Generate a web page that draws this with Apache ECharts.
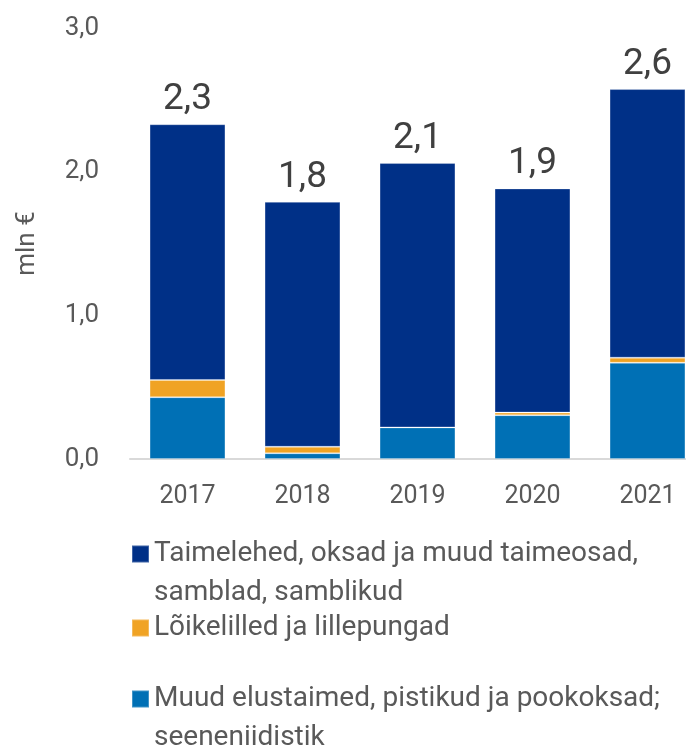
<!DOCTYPE html>
<html>
<head>
<meta charset="utf-8">
<script src="https://cdn.jsdelivr.net/npm/echarts@6/dist/echarts.min.js"></script>
<style>html,body{margin:0;padding:0;background:#fff}#c{width:686px;height:750px}</style>
</head>
<body>
<div id="c"></div>
<script>
var years = ['2017', '2018', '2019', '2020', '2021'];
var muud = [0.43, 0.04, 0.22, 0.305, 0.67];
var loikelilled = [0.12, 0.045, 0, 0.018, 0.035];
var taimelehed = [1.78, 1.705, 1.84, 1.56, 1.87];
var yTicks = [0, 1, 2, 3];

var nameDark = 'Taimelehed, oksad ja muud taimeosad,\nsamblad, samblikud';
var nameOrange = 'Lõikelilled ja lillepungad';
var nameLight = 'Muud elustaimed, pistikud ja pookoksad;\nseeneniidistik';

var FONT = 'Roboto, sans-serif';
var fmt = function (v) { return v.toFixed(1).replace('.', ','); };

var chart = echarts.init(document.getElementById('c'), null, {renderer: 'canvas'});

function legendItem(name, top, twoLine) {
  return {
    data: [name],
    orient: 'vertical',
    left: 131,
    top: top,
    padding: 0,
    itemWidth: 17,
    itemHeight: 17,
    itemGap: 0,
    icon: 'rect',
    formatter: function (n) { return twoLine ? ' \n' + n : n; },
    textStyle: {fontFamily: FONT, fontSize: 28, color: '#595959', lineHeight: 39},
    selectedMode: false
  };
}

chart.setOption({
  animation: false,
  textStyle: {fontFamily: FONT},
  grid: {left: 130, width: 575, top: 28, bottom: 291, containLabel: false, outerBoundsMode: 'none'},
  legend: [
    legendItem(nameDark, 495.5, true),
    legendItem(nameOrange, 608.5, false),
    legendItem(nameLight, 640.5, true)
  ],
  xAxis: {
    type: 'category',
    data: years,
    axisLine: {show: true, lineStyle: {color: '#d9d9d9', width: 2}},
    axisTick: {show: false},
    axisLabel: {fontFamily: FONT, fontSize: 25, color: '#595959', margin: 25}
  },
  yAxis: {
    type: 'value',
    min: yTicks[0],
    max: yTicks[yTicks.length - 1],
    interval: 1,
    name: 'mln €',
    nameLocation: 'middle',
    nameGap: 90,
    nameTextStyle: {fontFamily: FONT, fontSize: 26, color: '#595959'},
    splitLine: {show: false},
    axisLine: {show: false},
    axisTick: {show: false},
    axisLabel: {fontFamily: FONT, fontSize: 26, color: '#595959', margin: 31, formatter: fmt}
  },
  series: [
    {
      name: nameLight, type: 'bar', stack: 'a', data: muud, barWidth: '66%',
      itemStyle: {color: '#0070b5', borderColor: 'rgba(255,255,255,0.25)', borderWidth: 1}
    },
    {
      name: nameOrange, type: 'bar', stack: 'a', data: loikelilled, barWidth: '66%',
      itemStyle: {color: '#f0a324', borderColor: 'rgba(255,255,255,0.25)', borderWidth: 1}
    },
    {
      name: nameDark, type: 'bar', stack: 'a', data: taimelehed, barWidth: '66%',
      itemStyle: {color: '#003087', borderColor: 'rgba(255,255,255,0.25)', borderWidth: 1},
      label: {
        show: true, position: 'top', distance: 6,
        fontFamily: FONT, fontSize: 37, color: '#404040',
        formatter: function (p) {
          var i = p.dataIndex;
          return fmt(muud[i] + loikelilled[i] + taimelehed[i]);
        }
      }
    }
  ]
});
</script>
</body>
</html>
